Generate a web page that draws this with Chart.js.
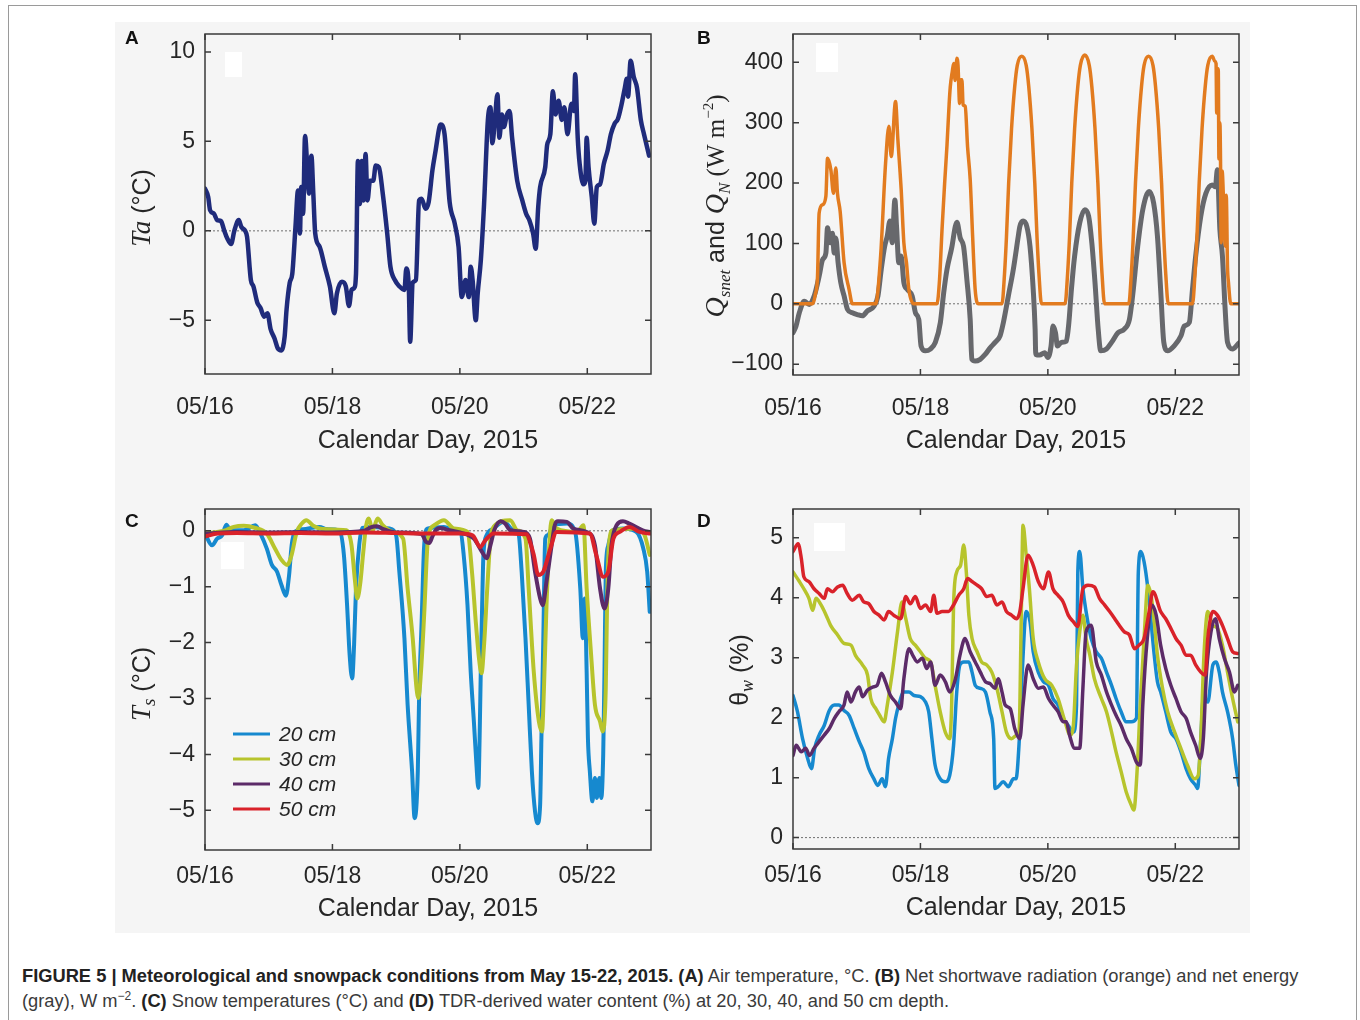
<!DOCTYPE html>
<html>
<head>
<meta charset="utf-8">
<script src="https://cdn.jsdelivr.net/npm/chart.js@4.4.1/dist/chart.umd.min.js"></script>
<style>
  body { margin: 0; background: #fff; width: 1360px; height: 1020px; position: relative; overflow: hidden; font-family: 'Liberation Sans', Arial, sans-serif; }
  #frame { position: absolute; left: 8px; top: 5px; width: 1347px; height: 1100px; border: 1px solid #9a9a9a; }
  #figbg { position: absolute; left: 115px; top: 22px; width: 1135px; height: 911px; background: #f5f5f5; }
  canvas { position: absolute; }
  .letter { position: absolute; font: bold 19px 'Liberation Sans', Arial, sans-serif; line-height: 19px; color: #111; }
  #caption { position: absolute; left: 22px; top: 963px; font-size: 18.3px; line-height: 25px; color: #3a3a3a; white-space: nowrap; }
  #caption b { color: #222; }
  #caption sup { font-size: 12px; line-height: 0; }
</style>
</head>
<body>
<div id="frame"></div>
<div id="figbg"></div>
<canvas id="chartA" width="545" height="440" style="left:115px;top:22px"></canvas>
<canvas id="chartB" width="560" height="440" style="left:690px;top:22px"></canvas>
<canvas id="chartC" width="545" height="440" style="left:115px;top:497px"></canvas>
<canvas id="chartD" width="560" height="440" style="left:690px;top:497px"></canvas>
<div class="letter" style="left:125px;top:28px">A</div>
<div class="letter" style="left:697px;top:28px">B</div>
<div class="letter" style="left:125px;top:511px">C</div>
<div class="letter" style="left:697px;top:511px">D</div>
<div id="caption"><b>FIGURE 5 | Meteorological and snowpack conditions from May 15-22, 2015.</b> <b>(A)</b> Air temperature, °C. <b>(B)</b> Net shortwave radiation (orange) and net energy<br>(gray), W m<sup>−2</sup>. <b>(C)</b> Snow temperatures (°C) and <b>(D)</b> TDR-derived water content (%) at 20, 30, 40, and 50 cm depth.</div>
<script>
Chart.defaults.font.family = "'Liberation Sans', Arial, sans-serif";
Chart.defaults.color = '#262626';

// x axis: days after 05/16 00:00
const xTickDays = [0, 2, 4, 6];
const xTickLabels = ['05/16', '05/18', '05/20', '05/22'];

// --- A: air temperature ---
const taDay = [0, 0.05, 0.08, 0.14, 0.19, 0.25, 0.3, 0.35, 0.41, 0.46, 0.53, 0.57, 0.63, 0.66, 0.72, 0.76, 0.82, 0.87, 0.93, 0.98,
  1.03, 1.09, 1.14, 1.2, 1.25, 1.28, 1.33, 1.37, 1.42, 1.46, 1.49, 1.51, 1.54, 1.57, 1.61, 1.63, 1.67, 1.7, 1.73, 1.8, 1.88, 1.96,
  2.03, 2.07, 2.15, 2.21, 2.26, 2.3, 2.34, 2.37, 2.4, 2.43, 2.46, 2.49, 2.52, 2.55, 2.59, 2.64, 2.68, 2.73, 2.79, 2.86, 2.91, 2.98,
  3.05, 3.13, 3.16, 3.2, 3.22, 3.26, 3.31, 3.36, 3.4, 3.46, 3.51, 3.57, 3.62, 3.68, 3.7, 3.76, 3.84, 3.92, 3.98,
  4.03, 4.09, 4.14, 4.17, 4.2, 4.25, 4.28, 4.33, 4.38, 4.44, 4.48, 4.51, 4.55, 4.59, 4.62, 4.66, 4.69, 4.74, 4.78, 4.82, 4.9, 4.98,
  5.04, 5.09, 5.15, 5.19, 5.23, 5.26, 5.34, 5.37, 5.42, 5.46, 5.5, 5.55, 5.6, 5.64, 5.69, 5.75, 5.79, 5.81, 5.85, 5.88, 5.94, 5.97, 5.99,
  6.02, 6.07, 6.11, 6.15, 6.2, 6.26, 6.32, 6.37, 6.43, 6.48, 6.54, 6.59, 6.62, 6.64, 6.68, 6.73, 6.78, 6.84, 6.89, 6.97];
const taVal = [2.36, 1.9, 1.15, 0.96, 0.6, 0.55, 0.04, -0.43, -0.74, 0, 0.6, 0.22, 0, -0.33, -2.75, -3.1, -4.0, -4.3, -4.8, -4.6,
  -5.5, -6.0, -6.55, -6.68, -5.9, -4.4, -2.9, -2.4, 0.22, 2.26, -0.15, 2.45, 0.96, 5.3, 3.2, 2.08, 4.2, 2.08, -0.15, -0.9, -2.0, -3.1,
  -4.6, -3.5, -2.84, -3.1, -4.2, -3.3, -3.2, -2.4, 3.9, 1.5, 3.9, 1.7, 4.3, 1.7, 2.8, 2.8, 3.65, 3.56, 2.08, -0.15, -2.0, -2.75,
  -3.1, -3.3, -2.1, -3.3, -6.2, -2.9, -2.75, 1.7, 1.8, 1.24, 1.6, 3.4, 4.5, 5.8, 5.94, 5.4, 1.6, 0.4, -0.9,
  -3.7, -2.75, -3.7, -2.0, -2.75, -5.0, -3.5, -1.6, 1.5, 6.2, 6.9, 4.9, 6.2, 7.64, 5.2, 6.5, 5.8, 6.5, 6.7, 5.2, 2.8, 1.7,
  0.96, 0.6, -0.15, -1.0, 1.34, 2.45, 3.56, 4.8, 5.4, 7.8, 6.5, 7.27, 6.2, 6.9, 5.4, 7.1, 6.7, 8.75, 5.2, 3.75, 2.6, 2.8, 5.2,
  3.56, 1.9, 0.4, 2.45, 2.6, 3.75, 4.5, 5.4, 6.0, 6.25, 7.1, 8.0, 8.5, 7.5, 9.5, 8.6, 8.0, 6.2, 5.4, 4.2];
const taTicks = [-5, 0, 5, 10];

// --- B: net shortwave (orange) and net energy (gray) ---
const qsDay = [0, 0.31, 0.35, 0.385, 0.41, 0.464, 0.516, 0.542, 0.594, 0.635, 0.672, 0.698, 0.74, 0.802, 0.88, 0.932,
  1.297, 1.375, 1.453, 1.505, 1.542, 1.609, 1.646, 1.698, 1.74, 1.781, 1.818, 1.896,
  2.26, 2.3, 2.339, 2.38, 2.417, 2.45, 2.469, 2.5, 2.521, 2.545, 2.573, 2.59, 2.615, 2.635, 2.651, 2.67, 2.703, 2.74, 2.781, 2.82, 2.859, 2.911,
  3.28, 3.32, 3.35, 3.385, 3.43, 3.48, 3.52, 3.59, 3.66, 3.7, 3.75, 3.795, 3.83, 3.86, 3.9,
  4.27, 4.31, 4.34, 4.375, 4.42, 4.47, 4.51, 4.58, 4.65, 4.69, 4.74, 4.785, 4.82, 4.85, 4.89,
  5.27, 5.31, 5.34, 5.375, 5.42, 5.47, 5.51, 5.58, 5.65, 5.69, 5.74, 5.785, 5.82, 5.85, 5.89,
  6.27, 6.31, 6.34, 6.375, 6.42, 6.47, 6.51, 6.58, 6.62, 6.64, 6.65, 6.66, 6.675, 6.685, 6.7, 6.71, 6.72, 6.735, 6.755, 6.775, 6.79, 6.8, 6.82, 6.835, 6.87, 7.0];
const qsVal = [0, 0, 15, 46, 150, 164, 178, 241, 222, 183, 225, 183, 153, 68, 24, 0,
  0, 79, 233, 294, 244, 335, 272, 189, 101, 68, 24, 0,
  0, 40, 123, 200, 263, 330, 360, 385, 398, 370, 407, 395, 332, 371, 371, 330, 327, 260, 206, 110, 24, 0,
  0, 50, 110, 200, 290, 360, 395, 410, 395, 360, 290, 200, 110, 50, 0,
  0, 50, 110, 200, 290, 360, 395, 412, 395, 360, 290, 200, 110, 50, 0,
  0, 50, 110, 200, 290, 360, 395, 410, 395, 360, 290, 200, 110, 50, 0,
  0, 50, 110, 200, 290, 360, 395, 410, 402, 398, 316, 390, 387, 240, 300, 238, 101, 220, 178, 110, 95, 180, 60, 35, 0, 0];
const qnDay = [0, 0.047, 0.099, 0.177, 0.255, 0.333, 0.411, 0.464, 0.516, 0.542, 0.583, 0.62, 0.646, 0.672, 0.708, 0.75, 0.802, 0.854, 0.932,
  1.01, 1.089, 1.167, 1.271, 1.333, 1.385, 1.438, 1.479, 1.521, 1.557, 1.599, 1.625, 1.661, 1.698, 1.74, 1.792, 1.87, 1.922, 1.974,
  2.01, 2.078, 2.156, 2.234, 2.313, 2.365, 2.417, 2.495, 2.547, 2.573, 2.625, 2.677, 2.729, 2.781, 2.807, 2.859, 2.938,
  3.016, 3.094, 3.172, 3.25, 3.302, 3.38, 3.458, 3.536, 3.56, 3.61, 3.67, 3.72, 3.77, 3.8, 3.81, 3.87, 3.95,
  4.0, 4.05, 4.08, 4.12, 4.15, 4.21, 4.29, 4.33, 4.37, 4.42, 4.5, 4.58, 4.64, 4.69, 4.74, 4.79, 4.83, 4.92,
  5.0, 5.1, 5.2, 5.28, 5.33, 5.41, 5.49, 5.59, 5.66, 5.72, 5.77, 5.82, 5.88, 5.98,
  6.09, 6.14, 6.22, 6.27, 6.32, 6.4, 6.48, 6.58, 6.63, 6.66, 6.7, 6.74, 6.78, 6.82, 6.9, 6.98, 7.0];
const qnVal = [-48, -37, -15, 4, -1, 13, 46, 73, 84, 126, 101, 117, 84, 109, 68, 35, 13, -9, -15,
  -18, -20, -12, -4, 13, 57, 95, 112, 137, 101, 172, 128, 68, 79, 35, 24, 13, -15, -26,
  -70, -78, -75, -64, -31, 18, 57, 95, 128, 135, 109, 95, 40, -26, -92, -95, -92,
  -84, -73, -64, -53, -31, 13, 57, 112, 128, 137, 128, 95, 24, -42, -84, -85, -81,
  -89, -70, -37, -48, -70, -64, -62, -31, 24, 79, 134, 156, 145, 101, 35, -42, -78, -75,
  -64, -48, -42, -26, 13, 95, 156, 186, 167, 112, 24, -64, -78, -70,
  -53, -37, -31, 24, 79, 145, 183, 197, 194, 222, 123, 79, -4, -64, -75, -67, -65];
const qTicks = [-100, 0, 100, 200, 300, 400];

// --- C: snow temperature by depth ---
const ts20Day = [0, 0.11, 0.19, 0.27, 0.335, 0.4, 0.61, 0.79, 0.87, 0.97, 1.05, 1.13, 1.2, 1.27, 1.32, 1.36, 1.41, 1.54, 1.8, 1.91,
  2.11, 2.18, 2.23, 2.27, 2.31, 2.34, 2.37, 2.42, 2.47, 2.63, 2.9, 3.0, 3.05, 3.13, 3.18, 3.25, 3.29, 3.34, 3.36, 3.4, 3.44, 3.49, 3.75, 3.91,
  4.01, 4.06, 4.12, 4.17, 4.22, 4.26, 4.29, 4.31, 4.33, 4.35, 4.37, 4.42, 4.53, 4.69, 4.84, 4.92, 4.97,
  5.03, 5.08, 5.13, 5.18, 5.22, 5.26, 5.28, 5.31, 5.34, 5.38, 5.47, 5.68, 5.81, 5.89, 5.93, 5.96, 5.99,
  6.01, 6.04, 6.08, 6.12, 6.15, 6.19, 6.22, 6.25, 6.27, 6.29, 6.33, 6.4, 6.56, 6.77, 6.88, 6.94, 6.98];
const ts20Val = [-0.05, -0.26, -0.14, -0.08, 0.11, 0.01, 0.01, 0.1, -0.05, -0.32, -0.61, -0.73, -0.97, -1.16, -0.79, -0.26, -0.02, 0.03, 0.07, 0.03,
  0.01, -0.43, -1.33, -2.22, -2.64, -2.04, -1.03, -0.26, 0.05, 0.07, 0.04, -0.08, -0.73, -1.92, -3.11, -4.3, -5.14, -4.3, -2.99, -1.63, -0.26, 0.04, 0.07, 0.01,
  -0.02, -0.43, -1.33, -2.52, -3.41, -4.18, -4.6, -3.71, -2.4, -1.33, -0.43, -0.08, 0.04, 0.16, 0.01, -0.05, -0.73,
  -1.92, -3.11, -4.3, -5.02, -5.23, -4.9, -3.71, -1.92, -0.14, -0.08, 0.1, 0.13, -0.02, -1.03, -1.92, -1.21, -2.52,
  -3.71, -4.3, -4.84, -4.42, -4.78, -4.42, -4.78, -4.0, -2.52, -0.73, -0.26, 0.01, 0.04, -0.02, -0.32, -0.73, -1.45];
const ts30Day = [0, 0.3, 0.45, 0.61, 0.79, 0.97, 1.1, 1.2, 1.29, 1.36, 1.44, 1.52, 1.59, 1.7, 1.85,
  2.22, 2.3, 2.35, 2.39, 2.44, 2.48, 2.53, 2.57, 2.63, 2.71, 2.79, 2.95, 3.11, 3.18, 3.26, 3.32, 3.35, 3.39, 3.44, 3.5, 3.6, 3.75, 3.91,
  4.12, 4.19, 4.25, 4.3, 4.34, 4.38, 4.43, 4.48, 4.53, 4.79, 4.9, 5.03, 5.08, 5.16, 5.24, 5.29, 5.32, 5.36, 5.41, 5.44, 5.52, 5.84, 5.94, 5.99,
  6.06, 6.12, 6.2, 6.24, 6.29, 6.31, 6.34, 6.4, 6.77, 6.9, 6.98];
const ts30Val = [-0.05, 0.0, 0.07, 0.09, 0.05, -0.05, -0.32, -0.52, -0.61, -0.43, -0.02, 0.13, 0.19, 0.09, 0.03,
  0.01, -0.26, -0.85, -1.21, -0.91, -0.43, 0.1, 0.22, 0.01, 0.22, 0.1, -0.02, -0.14, -1.03, -1.92, -2.82, -2.99, -2.52, -1.5, -0.14, 0.1, 0.19, 0.04,
  -0.02, -0.73, -1.63, -2.28, -2.55, -2.04, -1.03, -0.14, 0.07, 0.19, 0.01, -0.14, -1.03, -2.52, -3.41, -3.59, -2.82, -1.33, -0.14, 0.19, 0.04, -0.02, 0.1, -1.03,
  -2.22, -3.11, -3.41, -3.59, -2.82, -1.33, -0.26, 0.01, 0.04, -0.08, -0.43];
const ts40Day = [0, 0.5, 1.0, 1.5, 2.0, 2.5, 2.6, 2.7, 2.8, 3.0, 3.4, 3.47, 3.52, 3.57, 3.63, 3.7, 3.8,
  4.0, 4.22, 4.35, 4.42, 4.48, 4.54, 4.64, 4.71, 4.79, 5.0, 5.1, 5.18, 5.26, 5.3, 5.36, 5.44, 5.49, 5.54, 5.68, 5.78, 5.99,
  6.12, 6.2, 6.27, 6.33, 6.38, 6.46, 6.56, 6.66, 6.87, 7.0];
const ts40Val = [-0.05, -0.02, -0.03, -0.02, -0.03, 0.0, 0.06, 0.08, 0.03, -0.03, -0.06, -0.2, -0.22, -0.1, 0.02, 0.05, 0.02,
  -0.03, -0.14, -0.38, -0.49, -0.26, 0.01, 0.17, 0.13, 0.01, -0.02, -0.14, -0.73, -1.21, -1.33, -0.91, -0.26, 0.1, 0.17, 0.16, 0.04, -0.02,
  -0.26, -1.03, -1.39, -1.03, -0.26, 0.1, 0.17, 0.13, 0.01, -0.03];
const ts50Day = [0, 0.2, 0.5, 1.0, 1.5, 2.0, 2.5, 3.0, 3.5, 4.0, 4.2, 4.32, 4.4, 4.53, 5.05, 5.1, 5.16, 5.23, 5.31, 5.42, 5.52,
  6.04, 6.14, 6.25, 6.33, 6.41, 6.51, 6.66, 6.82, 7.0];
const ts50Val = [-0.1, -0.05, -0.04, -0.05, -0.04, -0.05, -0.03, -0.04, -0.05, -0.05, -0.08, -0.29, -0.17, -0.05, -0.06, -0.2, -0.43, -0.79, -0.73, -0.32, -0.02,
  -0.05, -0.43, -0.82, -0.73, -0.14, -0.02, 0.07, -0.02, -0.05];
const tsTicks = [-5, -4, -3, -2, -1, 0];

// --- D: TDR water content by depth ---
const th20Day = [0, 0.07, 0.15, 0.23, 0.29, 0.34, 0.41, 0.49, 0.57, 0.65, 0.72, 0.8, 0.88, 0.96, 1.04, 1.11, 1.19, 1.27, 1.33, 1.4, 1.45,
  1.5, 1.56, 1.61, 1.66, 1.74, 1.82, 1.9, 2.0, 2.08, 2.13, 2.18, 2.23, 2.31, 2.39, 2.46, 2.52, 2.57, 2.62, 2.68, 2.76, 2.81, 2.86, 2.94,
  3.02, 3.09, 3.15, 3.17, 3.22, 3.3, 3.38, 3.46, 3.5, 3.55, 3.6, 3.66, 3.72, 3.77, 3.85, 3.93,
  4.01, 4.08, 4.16, 4.24, 4.32, 4.4, 4.45, 4.47, 4.5, 4.55, 4.6, 4.68, 4.76, 4.84, 4.92,
  5.0, 5.07, 5.15, 5.23, 5.31, 5.39, 5.42, 5.46, 5.51, 5.57, 5.62, 5.67, 5.72, 5.77, 5.85, 5.93,
  6.01, 6.09, 6.17, 6.24, 6.32, 6.35, 6.4, 6.44, 6.51, 6.59, 6.64, 6.69, 6.74, 6.82, 6.9, 6.95, 7.0];
const th20Val = [2.37, 2.1, 1.65, 1.32, 1.15, 1.49, 1.71, 1.87, 2.12, 2.21, 2.21, 2.12, 2.04, 1.82, 1.6, 1.43, 1.15, 0.98, 0.87, 0.98, 0.85,
  1.32, 1.65, 1.99, 2.21, 2.43, 2.43, 2.37, 2.35, 2.26, 2.1, 1.65, 1.21, 0.98, 0.93, 1.04, 1.54, 2.43, 2.88, 2.93, 2.93, 2.76, 2.54, 2.49,
  2.43, 2.1, 1.65, 0.82, 0.85, 0.93, 0.85, 0.98, 0.98, 1.6, 2.8, 3.77, 3.6, 3.1, 2.76, 2.6,
  2.54, 2.32, 2.21, 1.99, 1.87, 1.76, 2.21, 4.43, 4.77, 4.15, 3.77, 3.32, 3.1, 2.99, 2.76,
  2.54, 2.32, 2.1, 1.93, 1.93, 1.99, 4.43, 4.77, 4.6, 4.15, 3.6, 3.04, 2.6, 2.43, 2.1, 1.76,
  1.65, 1.43, 1.15, 0.98, 0.87, 0.82, 1.65, 2.32, 2.26, 2.88, 2.93, 2.76, 2.43, 2.1, 1.65, 1.21, 0.87];
const th30Day = [0, 0.1, 0.17, 0.25, 0.31, 0.36, 0.44, 0.52, 0.59, 0.7, 0.8, 0.91, 0.98, 1.09, 1.17, 1.22, 1.3, 1.36, 1.43, 1.48,
  1.56, 1.64, 1.71, 1.77, 1.84, 1.92, 2.0, 2.08, 2.16, 2.23, 2.31, 2.39, 2.46, 2.49, 2.52, 2.57, 2.63, 2.68, 2.72, 2.76, 2.81, 2.89, 2.96,
  3.04, 3.12, 3.2, 3.28, 3.35, 3.43, 3.51, 3.55, 3.58, 3.61, 3.66, 3.71, 3.77, 3.85, 3.95,
  4.06, 4.16, 4.27, 4.35, 4.4, 4.45, 4.5, 4.55, 4.6, 4.66, 4.73, 4.84, 4.92,
  5.0, 5.07, 5.15, 5.23, 5.31, 5.35, 5.4, 5.45, 5.51, 5.57, 5.62, 5.67, 5.72, 5.8, 5.88, 5.99,
  6.09, 6.19, 6.3, 6.36, 6.4, 6.45, 6.51, 6.59, 6.66, 6.74, 6.82, 6.9, 6.98];
const th30Val = [4.43, 4.27, 4.15, 3.99, 3.79, 3.99, 3.88, 3.71, 3.54, 3.38, 3.24, 3.21, 3.04, 2.88, 2.71, 2.32, 2.15, 2.04, 1.93, 2.21,
  2.76, 3.43, 3.93, 3.65, 3.32, 3.21, 3.1, 2.99, 2.93, 2.54, 2.1, 1.76, 1.65, 2.21, 3.88, 4.43, 4.54, 4.88, 4.43, 3.71, 3.32, 3.1, 2.93,
  2.88, 2.76, 2.49, 2.1, 1.76, 1.65, 1.71, 1.8, 3.5, 5.21, 4.71, 4.15, 3.32, 2.93, 2.65,
  2.54, 2.32, 1.93, 1.71, 1.87, 2.88, 3.43, 3.71, 3.32, 3.04, 2.65, 2.32, 2.1,
  1.76, 1.43, 1.1, 0.76, 0.54, 0.46, 1.1, 2.21, 3.32, 4.21, 4.04, 3.6, 3.04, 2.49, 2.1, 1.76,
  1.48, 1.21, 0.98, 1.04, 1.65, 3.04, 3.77, 3.54, 3.49, 3.21, 2.76, 2.32, 1.93];
const th40Day = [0, 0.05, 0.13, 0.2, 0.26, 0.33, 0.41, 0.49, 0.57, 0.65, 0.72, 0.8, 0.85, 0.91, 0.98, 1.04, 1.09, 1.17, 1.25, 1.32, 1.39, 1.45,
  1.53, 1.61, 1.69, 1.74, 1.82, 1.88, 1.95, 2.03, 2.1, 2.16, 2.23, 2.31, 2.39, 2.46, 2.55, 2.62, 2.7, 2.78, 2.86, 2.94,
  3.02, 3.09, 3.17, 3.22, 3.28, 3.33, 3.41, 3.48, 3.56, 3.61, 3.69, 3.77, 3.85, 3.93,
  4.01, 4.08, 4.16, 4.24, 4.29, 4.34, 4.42, 4.5, 4.55, 4.6, 4.68, 4.76, 4.84, 4.92,
  5.0, 5.07, 5.15, 5.23, 5.31, 5.39, 5.45, 5.49, 5.56, 5.63, 5.7, 5.77, 5.85, 5.93,
  6.01, 6.09, 6.17, 6.24, 6.32, 6.39, 6.44, 6.49, 6.56, 6.63, 6.69, 6.77, 6.85, 6.93, 6.98];
const th40Val = [1.37, 1.54, 1.43, 1.49, 1.37, 1.49, 1.6, 1.71, 1.82, 1.99, 2.1, 2.21, 2.43, 2.26, 2.43, 2.51, 2.35, 2.46, 2.51, 2.54, 2.74, 2.6,
  2.37, 2.26, 2.15, 2.65, 3.15, 3.04, 2.93, 2.99, 2.82, 2.93, 2.54, 2.71, 2.6, 2.43, 2.65, 3.04, 3.32, 3.1, 2.93, 2.76,
  2.6, 2.57, 2.49, 2.65, 2.43, 2.21, 2.15, 1.82, 1.65, 2.21, 2.88, 2.65, 2.49, 2.51,
  2.32, 2.21, 2.1, 1.93, 1.93, 1.71, 1.49, 1.49, 2.49, 3.43, 3.54, 2.93, 2.71, 2.43,
  2.21, 2.04, 1.87, 1.65, 1.49, 1.26, 1.21, 2.21, 3.32, 3.88, 3.71, 3.21, 2.82, 2.54,
  2.32, 2.1, 1.99, 1.76, 1.54, 1.32, 1.65, 2.76, 3.43, 3.65, 3.32, 2.99, 2.76, 2.43, 2.54];
const th50Day = [0, 0.08, 0.13, 0.17, 0.25, 0.33, 0.41, 0.49, 0.54, 0.62, 0.7, 0.78, 0.85, 0.93, 1.04, 1.11, 1.19, 1.27, 1.35, 1.43,
  1.5, 1.58, 1.69, 1.77, 1.84, 1.92, 2.0, 2.08, 2.16, 2.21, 2.26, 2.34, 2.44, 2.52, 2.6, 2.68, 2.74, 2.81, 2.89, 2.96,
  3.04, 3.12, 3.2, 3.28, 3.35, 3.43, 3.51, 3.56, 3.61, 3.69, 3.77, 3.85, 3.93,
  4.01, 4.08, 4.16, 4.24, 4.32, 4.4, 4.47, 4.55, 4.63, 4.73, 4.81, 4.89, 4.97,
  5.05, 5.12, 5.2, 5.28, 5.36, 5.43, 5.51, 5.59, 5.65, 5.77, 5.85, 5.93,
  6.01, 6.09, 6.17, 6.24, 6.32, 6.4, 6.47, 6.51, 6.59, 6.66, 6.74, 6.82, 6.9, 6.98];
const th50Val = [4.77, 4.9, 4.66, 4.35, 4.27, 4.15, 4.07, 3.99, 4.15, 4.1, 4.18, 4.21, 4.07, 3.96, 4.04, 3.93, 3.9, 3.77, 3.71, 3.63,
  3.77, 3.71, 3.65, 4.02, 3.9, 4.02, 3.82, 3.88, 3.77, 4.04, 3.74, 3.77, 3.77, 3.88, 4.04, 4.15, 4.32, 4.27, 4.21, 4.15,
  4.02, 4.04, 3.88, 3.93, 3.77, 3.71, 3.65, 3.77, 4.15, 4.71, 4.54, 4.27, 4.15,
  4.43, 4.15, 4.04, 3.93, 3.71, 3.6, 3.52, 4.15, 4.21, 4.18, 3.99, 3.88, 3.77,
  3.65, 3.54, 3.43, 3.38, 3.15, 3.21, 3.32, 3.77, 4.1, 3.77, 3.65, 3.49,
  3.32, 3.21, 3.04, 3.04, 2.88, 2.76, 2.71, 3.32, 3.77, 3.71, 3.54, 3.32, 3.1, 3.07];
const thTicks = [0, 1, 2, 3, 4, 5];

const depthLabels = ['20 cm', '30 cm', '40 cm', '50 cm'];
const depthColors = ['#1689cf', '#b7c42c', '#5c2b68', '#d9222a'];

const pts = (d, v) => d.map((x, i) => ({ x, y: v[i] }));
const fmt = v => (v < 0 ? '\u2212' + Math.abs(v) : String(v));

const panelPlugin = {
  id: 'panel',
  beforeDatasetsDraw(chart, args, o) {
    const { ctx, chartArea: a, scales: { y } } = chart;
    ctx.save();
    if (o.blank) {
      ctx.fillStyle = '#ffffff';
      ctx.fillRect(a.left + o.blank[0], a.top + o.blank[1], o.blank[2], o.blank[3]);
    }
    const y0 = y.getPixelForValue(0);
    ctx.strokeStyle = '#707070';
    ctx.lineWidth = 1;
    ctx.setLineDash([2, 2]);
    ctx.beginPath();
    ctx.moveTo(a.left, y0);
    ctx.lineTo(a.right, y0);
    ctx.stroke();
    ctx.restore();
  },
  afterDraw(chart, args, o) {
    const { ctx, chartArea: a, scales: { x, y } } = chart;
    ctx.save();
    // box + inner ticks
    ctx.strokeStyle = '#3a3a3a';
    ctx.lineWidth = 1.5;
    ctx.strokeRect(a.left, a.top, a.right - a.left, a.bottom - a.top);
    ctx.beginPath();
    x.ticks.forEach(t => {
      const px = x.getPixelForValue(t.value);
      ctx.moveTo(px, a.bottom); ctx.lineTo(px, a.bottom - 6);
      ctx.moveTo(px, a.top); ctx.lineTo(px, a.top + 6);
    });
    y.ticks.forEach(t => {
      const py = y.getPixelForValue(t.value);
      ctx.moveTo(a.left, py); ctx.lineTo(a.left + 6, py);
      ctx.moveTo(a.right, py); ctx.lineTo(a.right - 6, py);
    });
    ctx.stroke();

    // y axis title made of mixed-font pieces
    if (o.ytitle) {
      const segs = o.ytitle.segs;
      ctx.translate(o.ytitle.x, o.ytitle.y);
      ctx.rotate(-Math.PI / 2);
      ctx.fillStyle = '#262626';
      ctx.textBaseline = 'alphabetic';
      let total = 0;
      segs.forEach(s => { ctx.font = s.f; total += ctx.measureText(s.t).width; });
      let cx = -total / 2;
      segs.forEach(s => {
        ctx.font = s.f;
        ctx.fillText(s.t, cx, 9 + (s.dy || 0));
        cx += ctx.measureText(s.t).width;
      });
      ctx.setTransform(1, 0, 0, 1, 0, 0);
    }

    // legend inside the plot
    if (o.legend) {
      const L = o.legend;
      ctx.font = "italic 21px 'Liberation Sans', Arial, sans-serif";
      ctx.textBaseline = 'middle';
      chart.data.datasets.forEach((ds, i) => {
        const yy = a.top + L.y + i * L.gap;
        ctx.strokeStyle = ds.borderColor;
        ctx.lineWidth = 3;
        ctx.beginPath();
        ctx.moveTo(a.left + L.x, yy);
        ctx.lineTo(a.left + L.x + L.len, yy);
        ctx.stroke();
        ctx.fillStyle = '#262626';
        ctx.fillText(ds.label, a.left + L.x + L.len + 9, yy + 1);
      });
    }
    ctx.restore();
  }
};

function panelChart(id, o) {
  return new Chart(document.getElementById(id), {
    type: 'line',
    data: { datasets: o.datasets },
    options: {
      responsive: false,
      animation: false,
      events: [],
      layout: { padding: { left: 0, top: 12, right: o.right, bottom: 0 } },
      elements: { point: { radius: 0 }, line: { tension: 0, cubicInterpolationMode: 'monotone', borderJoinStyle: 'round', borderCapStyle: 'round' } },
      plugins: { legend: { display: false }, tooltip: { enabled: false }, panel: o.panel },
      scales: {
        x: {
          type: 'linear', min: 0, max: 7,
          afterFit: s => { s.height = o.xh; s.paddingLeft = 0; s.paddingRight = 0; },
          afterBuildTicks: s => { s.ticks = xTickDays.map(v => ({ value: v })); },
          grid: { display: false, drawTicks: false, tickLength: 0 },
          border: { display: false },
          ticks: { padding: o.xpad, autoSkip: false, maxRotation: 0, font: { size: 23 },
            callback: v => xTickLabels[xTickDays.indexOf(v)] },
          title: { display: true, text: 'Calendar Day, 2015', font: { size: 25 }, color: '#262626',
            padding: { top: 0, bottom: o.tpad } }
        },
        y: {
          type: 'linear', min: o.ymin, max: o.ymax,
          afterFit: s => { s.width = o.yw; s.paddingTop = 0; s.paddingBottom = 0; },
          afterBuildTicks: s => { s.ticks = o.yticks.map(v => ({ value: v })); },
          grid: { display: false, drawTicks: false, tickLength: 0 },
          border: { display: false },
          ticks: { padding: 10, autoSkip: false, font: { size: 23 }, callback: fmt }
        }
      }
    },
    plugins: [panelPlugin]
  });
}

const serifI = size => `italic ${size}px 'Liberation Serif', 'DejaVu Serif', serif`;
const serif = size => `${size}px 'Liberation Serif', 'DejaVu Serif', serif`;
const sans = size => `${size}px 'Liberation Sans', Arial, sans-serif`;

panelChart('chartA', {
  right: 9, xh: 88, yw: 90, xpad: 20, tpad: 6, ymin: -8, ymax: 11, yticks: taTicks,
  datasets: [{ data: pts(taDay, taVal), borderColor: '#1f2b7b', borderWidth: 4.5 }],
  panel: {
    blank: [20, 18, 17, 25],
    ytitle: { x: 26, y: 186, segs: [{ t: 'Ta', f: serifI(27) }, { t: ' (°C)', f: sans(25) }] }
  }
});

panelChart('chartB', {
  right: 11, xh: 87, yw: 103, xpad: 20, tpad: 6, ymin: -118, ymax: 447, yticks: qTicks,
  datasets: [
    { data: pts(qsDay, qsVal), borderColor: '#e27b1f', borderWidth: 3.5, order: 0 },
    { data: pts(qnDay, qnVal), borderColor: '#67686c', borderWidth: 5, order: 1 }
  ],
  panel: {
    blank: [23, 9, 22, 29],
    ytitle: { x: 25, y: 184, segs: [
      { t: 'Q', f: serifI(28) }, { t: 'snet', f: serifI(17), dy: 6 },
      { t: ' and ', f: sans(25) },
      { t: 'Q', f: serifI(28) }, { t: 'N', f: serifI(17), dy: 6 },
      { t: ' (W m', f: serif(25) }, { t: '\u22122', f: serif(15), dy: -11 }, { t: ')', f: serif(25) }
    ] }
  }
});

const tsSeries = [[ts20Day, ts20Val], [ts30Day, ts30Val], [ts40Day, ts40Val], [ts50Day, ts50Val]];
panelChart('chartC', {
  right: 9, xh: 87, yw: 90, xpad: 13, tpad: 13, ymin: -5.71, ymax: 0.39, yticks: tsTicks,
  datasets: tsSeries.map((s, i) => ({ label: depthLabels[i], data: pts(s[0], s[1]), borderColor: depthColors[i], borderWidth: 4, order: 3 - i })),
  panel: {
    blank: [16, 33, 23, 27],
    ytitle: { x: 26, y: 187, segs: [{ t: 'T', f: serifI(27) }, { t: 's', f: serifI(19), dy: 5 }, { t: ' (°C)', f: sans(25) }] },
    legend: { x: 28, y: 225, gap: 25, len: 37 }
  }
});

const thSeries = [[th20Day, th20Val], [th30Day, th30Val], [th40Day, th40Val], [th50Day, th50Val]];
panelChart('chartD', {
  right: 11, xh: 88, yw: 103, xpad: 13, tpad: 14, ymin: -0.19, ymax: 5.48, yticks: thTicks,
  datasets: thSeries.map((s, i) => ({ label: depthLabels[i], data: pts(s[0], s[1]), borderColor: depthColors[i], borderWidth: 3.5, order: 3 - i })),
  panel: {
    blank: [21, 14, 31, 28],
    ytitle: { x: 49, y: 173, segs: [{ t: 'θ', f: sans(25) }, { t: 'w', f: serifI(18), dy: 5 }, { t: ' (%)', f: sans(25) }] }
  }
});
</script>
</body>
</html>
